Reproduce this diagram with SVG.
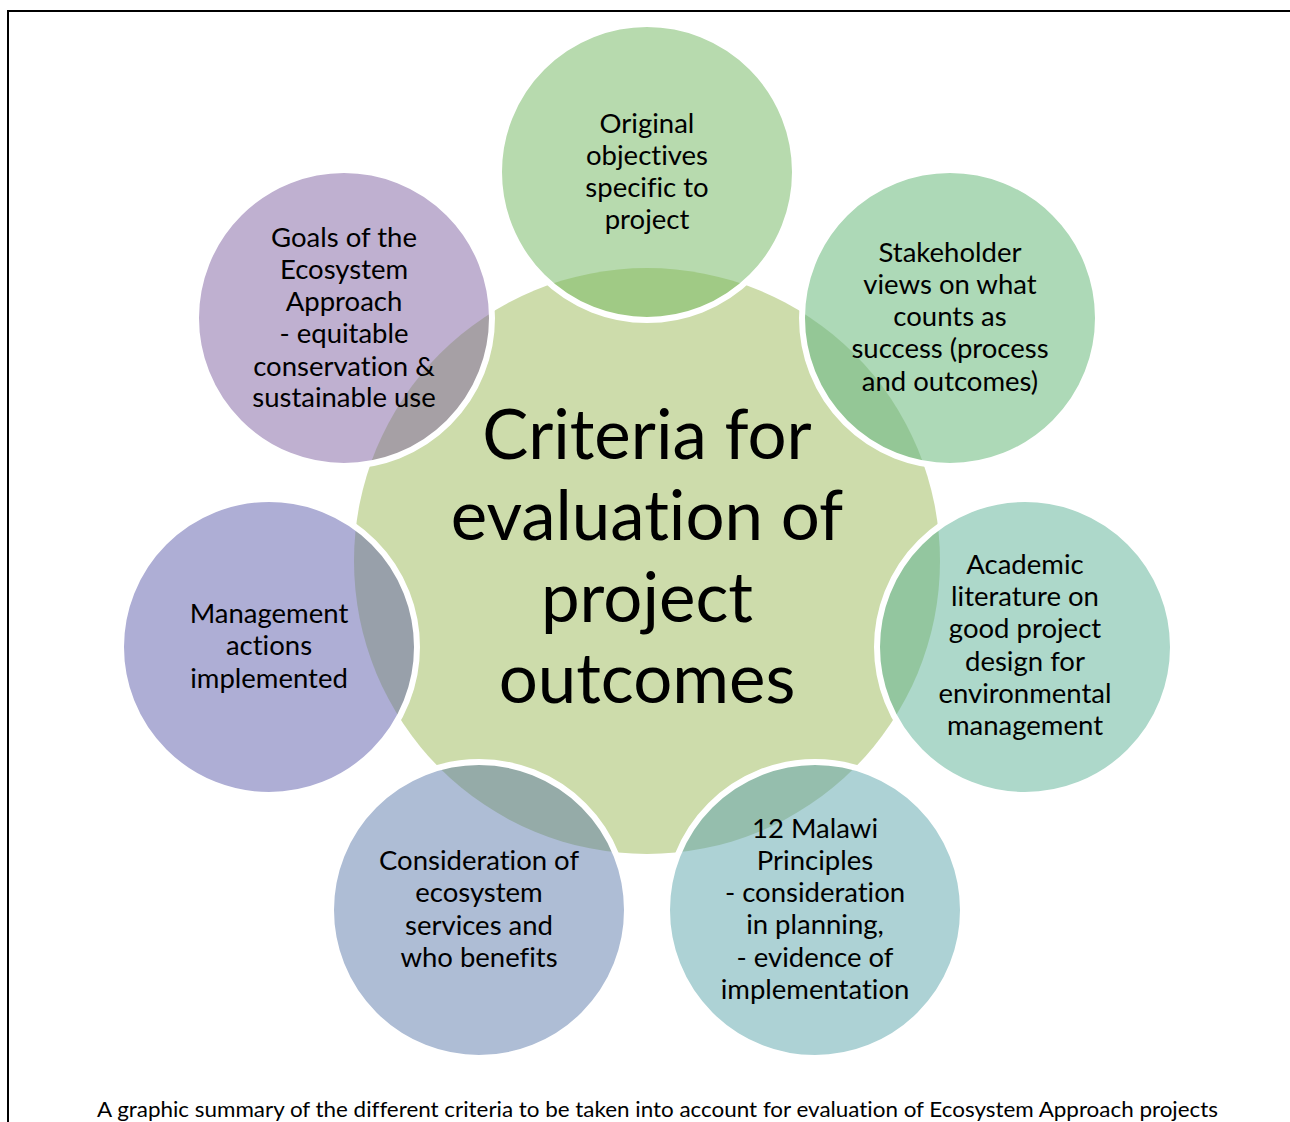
<svg xmlns="http://www.w3.org/2000/svg" width="1290" height="1122" viewBox="0 0 1290 1122">
  <style>
    text { font-variant-ligatures: none; font-feature-settings: "liga" 0; }
    .lbl { font-family: Lato, "Open Sans", sans-serif; font-size: 27.5px; fill: #000; text-anchor: middle; }
    .hub-lbl { font-family: Lato, "Open Sans", sans-serif; font-size: 69px; fill: #000; text-anchor: middle; }
    .cap { font-family: Lato, "Open Sans", sans-serif; font-size: 21px; fill: #000; }
    .ring { fill: none; stroke: #fff; stroke-width: 6; }
  </style>
  <defs>
    <clipPath id="hubClip"><circle cx="647" cy="561" r="293"/></clipPath>
  </defs>
  <rect width="1290" height="1122" fill="#fff"/>
  <!-- frame: left and top edges only -->
  <path d="M8 1122 V11 H1290" fill="none" stroke="#000" stroke-width="2"/>

  <g id="hub">
    <circle cx="647" cy="561" r="293" fill="#CDDCAB"/>
  </g>

  <g id="connectors"></g>

  <g id="node-objectives">
    <circle cx="647" cy="172" r="148" fill="#B7DAAE"/>
    <circle cx="647" cy="172" r="148" fill="#A0CA85" clip-path="url(#hubClip)"/>
    <circle class="ring" cx="647" cy="172" r="148"/>
    <text class="lbl"><tspan x="647" y="133">Original</tspan><tspan x="647" y="165">objectives</tspan><tspan x="647" y="197">specific to</tspan><tspan x="647" y="229">project</tspan></text>
  </g>

  <g id="node-stakeholder">
    <circle cx="950" cy="318" r="148" fill="#ADD9B7"/>
    <circle cx="950" cy="318" r="148" fill="#94C796" clip-path="url(#hubClip)"/>
    <circle class="ring" cx="950" cy="318" r="148"/>
    <text class="lbl"><tspan x="950" y="262">Stakeholder</tspan><tspan x="950" y="294">views on what</tspan><tspan x="950" y="326">counts as</tspan><tspan x="950" y="358">success (process</tspan><tspan x="950" y="391">and outcomes)</tspan></text>
  </g>

  <g id="node-academic">
    <circle cx="1025" cy="647" r="148" fill="#ADD8CA"/>
    <circle cx="1025" cy="647" r="148" fill="#93C69F" clip-path="url(#hubClip)"/>
    <circle class="ring" cx="1025" cy="647" r="148"/>
    <text class="lbl"><tspan x="1025" y="574">Academic</tspan><tspan x="1025" y="606">literature on</tspan><tspan x="1025" y="638">good project</tspan><tspan x="1025" y="671">design for</tspan><tspan x="1025" y="703">environmental</tspan><tspan x="1025" y="735">management</tspan></text>
  </g>

  <g id="node-malawi">
    <circle cx="815" cy="910" r="148" fill="#ADD2D5"/>
    <circle cx="815" cy="910" r="148" fill="#95BEAD" clip-path="url(#hubClip)"/>
    <circle class="ring" cx="815" cy="910" r="148"/>
    <text class="lbl"><tspan x="815" y="838">12 Malawi</tspan><tspan x="815" y="870">Principles</tspan><tspan x="815" y="902">- consideration</tspan><tspan x="815" y="934">in planning,</tspan><tspan x="815" y="967">- evidence of</tspan><tspan x="815" y="999">implementation</tspan></text>
  </g>

  <g id="node-services">
    <circle cx="479" cy="910" r="148" fill="#AEBDD5"/>
    <circle cx="479" cy="910" r="148" fill="#95ABA8" clip-path="url(#hubClip)"/>
    <circle class="ring" cx="479" cy="910" r="148"/>
    <text class="lbl"><tspan x="479" y="870">Consideration of</tspan><tspan x="479" y="902">ecosystem</tspan><tspan x="479" y="935">services and</tspan><tspan x="479" y="967">who benefits</tspan></text>
  </g>

  <g id="node-management">
    <circle cx="269" cy="647" r="148" fill="#AEAED5"/>
    <circle cx="269" cy="647" r="148" fill="#98A0AA" clip-path="url(#hubClip)"/>
    <circle class="ring" cx="269" cy="647" r="148"/>
    <text class="lbl"><tspan x="269" y="623">Management</tspan><tspan x="269" y="655">actions</tspan><tspan x="269" y="688">implemented</tspan></text>
  </g>

  <g id="node-goals">
    <circle cx="344" cy="318" r="148" fill="#BFB0D0"/>
    <circle cx="344" cy="318" r="148" fill="#A6A0A5" clip-path="url(#hubClip)"/>
    <circle class="ring" cx="344" cy="318" r="148"/>
    <text class="lbl"><tspan x="344" y="247">Goals of the</tspan><tspan x="344" y="279">Ecosystem</tspan><tspan x="344" y="311">Approach</tspan><tspan x="344" y="343">- equitable</tspan><tspan x="344" y="376">conservation &amp;</tspan><tspan x="344" y="407">sustainable use</tspan></text>
  </g>

  <g id="hub-label">
    <text class="hub-lbl"><tspan x="647" y="459">Criteria for</tspan><tspan x="647" y="540">evaluation of</tspan><tspan x="647" y="622">project</tspan><tspan x="647" y="703">outcomes</tspan></text>
  </g>

  <text class="cap" x="97" y="1117" textLength="1121" lengthAdjust="spacingAndGlyphs">A graphic summary of the different criteria to be taken into account for evaluation of Ecosystem Approach projects</text>
</svg>
